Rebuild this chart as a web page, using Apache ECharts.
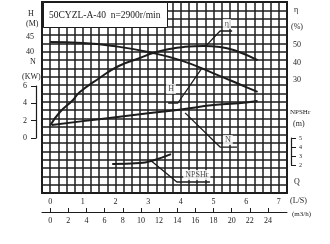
<!DOCTYPE html>
<html>
<head>
<meta charset="utf-8">
<script src="https://cdn.jsdelivr.net/npm/echarts@6/dist/echarts.min.js"></script>
<style>
html, body { margin: 0; padding: 0; background: #fff; }
#chart { width: 330px; height: 244px; }
</style>
</head>
<body>
<div id="chart"></div>
<script>
// 流量 Q (L/S) 与各性能曲线
var qH = [0, 1, 2, 3, 4, 5, 6, 6.35];
var hVals = [43.3, 43.0, 41.9, 40.0, 37.2, 32.9, 28.3, 26.7];

var qEta = [0, 0.3, 0.7, 0.9, 1.5, 2.1, 2.75, 3.15, 3.65, 4.1, 4.7, 5.2, 5.7, 6.35];
var etaVals = [4, 11.7, 18.6, 23, 31, 38, 42.6, 45.4, 47.7, 48.9, 49.4, 48.9, 46.6, 41.4];

var qN = [0.05, 1, 2, 3, 4, 5, 6, 6.35];
var nVals = [1.5, 1.95, 2.4, 2.85, 3.3, 3.8, 4.1, 4.27];

var qNpsh = [1.9, 2.75, 3.15, 3.7];
var npshVals = [2.0, 2.1, 2.4, 3.1];

// 刻度
var qLabels = [0, 1, 2, 3, 4, 5, 6, 7];
var m3hLabels = [0, 2, 4, 6, 8, 10, 12, 14, 16, 18, 20, 22, 24];
var hLabels = [40, 45];
var nLabels = [0, 2, 4, 6];
var etaLabels = [30, 40, 50];
var npshLabels = [2, 3, 4, 5];

// 引线 [Q, 值]
var etaLeader = [[4.74, 48.9], [5.2, 58], [5.57, 58]];
var hLeader = [[4.65, 34.7], [3.91, 23], [3.61, 23]];
var nLeader = [[4.13, 2.9], [5.2, -1.04], [5.72, -1.04]];
var npshLeader = [[3.06, 2.44], [3.88, 0], [4.89, 0]];

function zip(a, b) {
    return a.map(function (v, i) { return [v, b[i]]; });
}

var ink = '#1c1c1c';
var serif = '"Liberation Serif", "DejaVu Serif", serif';

function tag(x, y, s, size) {
    return {
        type: 'text', left: x, top: y,
        style: { text: s, fill: ink, font: (size || 8) + 'px ' + serif }
    };
}

function leaderLabel(name, q, v, yIdx) {
    return {
        type: 'scatter', yAxisIndex: yIdx, symbolSize: 1, z: 5,
        itemStyle: { color: 'transparent' },
        data: [{ value: [q, v], name: name }],
        label: {
            show: true, position: 'inside', formatter: '{b}',
            color: ink, fontFamily: serif, fontSize: 8,
            backgroundColor: '#fff', padding: [1, 2]
        }
    };
}

var myChart = echarts.init(document.getElementById('chart'));
var option = {
    backgroundColor: '#fff',
    animation: false,
    title: {
        text: '50CYZL-A-40  n=2900r/min',
        left: 43, top: 2,
        padding: [8, 7, 8, 6],
        backgroundColor: '#fff',
        borderColor: ink, borderWidth: 1,
        textStyle: { color: ink, fontFamily: serif, fontSize: 9.5, fontWeight: 'normal' }
    },
    grid: [
        { left: 42, right: 43, top: 2, bottom: 51, show: true, borderColor: ink, borderWidth: 2 },
        { left: 36, width: 1, top: 86, height: 52 },
        { left: 291, width: 1, top: 138, height: 27 },
        { left: 42, right: 43, top: 211, height: 1 }
    ],
    xAxis: [
        {
            type: 'value', gridIndex: 0, min: -0.25, max: 7.25, interval: 0.25,
            axisLine: { show: false }, axisTick: { show: false },
            splitLine: { show: true, lineStyle: { color: ink, width: 1.5 } },
            axisLabel: {
                margin: 5, color: ink, fontFamily: serif, fontSize: 8,
                formatter: function (v) { return qLabels.indexOf(v) > -1 ? String(v) : ''; }
            }
        },
        {   // m3/h
            type: 'value', gridIndex: 3, position: 'bottom',
            min: -0.9, max: 26.1,
            axisLine: { show: true, onZero: false, lineStyle: { color: ink, width: 1 } },
            axisTick: { show: true, inside: true, length: 4, customValues: m3hLabels, lineStyle: { color: ink } },
            splitLine: { show: false },
            axisLabel: { customValues: m3hLabels, margin: 5, color: ink, fontFamily: serif, fontSize: 8 }
        },
        { type: 'value', gridIndex: 1, show: false },
        { type: 'value', gridIndex: 2, show: false }
    ],
    yAxis: [
        {   // 网格
            type: 'value', gridIndex: 0, min: 0, max: 23, interval: 1,
            axisLine: { show: false }, axisTick: { show: false }, axisLabel: { show: false },
            splitLine: { show: true, lineStyle: { color: ink, width: 1.5 } }
        },
        {   // H
            type: 'value', gridIndex: 0, position: 'left', min: -7, max: 56.67,
            axisLine: { show: false }, axisTick: { show: false }, splitLine: { show: false },
            axisLabel: { customValues: hLabels, margin: 8, color: ink, fontFamily: serif, fontSize: 8 }
        },
        {   // N
            type: 'value', gridIndex: 0, show: false, min: -6.34, max: 15.69
        },
        {   // η
            type: 'value', gridIndex: 0, position: 'right', min: -34.57, max: 74.57,
            axisLine: { show: false }, axisTick: { show: false }, splitLine: { show: false },
            axisLabel: { customValues: etaLabels, margin: 6, color: ink, fontFamily: serif, fontSize: 8 }
        },
        {   // NPSHr
            type: 'value', gridIndex: 0, show: false, min: -1.22, max: 20
        },
        {   // N 刻度
            type: 'value', gridIndex: 1, position: 'left', min: 0, max: 6, interval: 2,
            axisLine: { show: true, lineStyle: { color: ink, width: 1.2 } },
            axisTick: { show: true, length: 5, lineStyle: { color: ink } },
            splitLine: { show: false },
            axisLabel: { margin: 9, color: ink, fontFamily: serif, fontSize: 8 }
        },
        {   // NPSHr 刻度
            type: 'value', gridIndex: 2, position: 'right', min: 2, max: 5, interval: 1,
            axisLine: { show: true, lineStyle: { color: ink, width: 1.2 } },
            axisTick: { show: true, length: 5, lineStyle: { color: ink } },
            splitLine: { show: false },
            axisLabel: { margin: 7, color: ink, fontFamily: serif, fontSize: 6 }
        },
        { type: 'value', gridIndex: 3, show: false }
    ],
    graphic: [
        tag(28, 10, 'H'),
        tag(26, 20, '(M)'),
        tag(30, 58, 'N'),
        tag(22, 73, '(KW)'),
        tag(294, 6, 'η'),
        tag(291, 23, '(%)'),
        tag(290, 109, 'NPSHr', 7),
        tag(293, 120, '(m)'),
        tag(294, 178, 'Q'),
        tag(290, 197, '(L/S)'),
        tag(292, 211, '(m3/h)', 7)
    ],
    series: [
        { type: 'line', yAxisIndex: 1, data: zip(qH, hVals), smooth: true, symbol: 'none', z: 4,
          lineStyle: { color: ink, width: 2 } },
        { type: 'line', yAxisIndex: 3, data: zip(qEta, etaVals), smooth: true, symbol: 'none', z: 4,
          lineStyle: { color: ink, width: 2 } },
        { type: 'line', yAxisIndex: 2, data: zip(qN, nVals), smooth: true, symbol: 'none', z: 4,
          lineStyle: { color: ink, width: 2 } },
        { type: 'line', yAxisIndex: 4, data: zip(qNpsh, npshVals), smooth: true, symbol: 'none', z: 4,
          lineStyle: { color: ink, width: 2 } },
        { type: 'line', yAxisIndex: 3, data: etaLeader, symbol: 'none', z: 4, lineStyle: { color: ink, width: 1.3 } },
        { type: 'line', yAxisIndex: 1, data: hLeader, symbol: 'none', z: 4, lineStyle: { color: ink, width: 1.3 } },
        { type: 'line', yAxisIndex: 2, data: nLeader, symbol: 'none', z: 4, lineStyle: { color: ink, width: 1.3 } },
        { type: 'line', yAxisIndex: 4, data: npshLeader, symbol: 'none', z: 4, lineStyle: { color: ink, width: 1.3 } },
        leaderLabel('η', 5.41, 62, 3),
        leaderLabel('H', 3.7, 27.7, 1),
        leaderLabel('N', 5.44, -0.23, 2),
        leaderLabel('NPSHr', 4.49, 0.78, 4)
    ]
};
myChart.setOption(option);
</script>
</body>
</html>
